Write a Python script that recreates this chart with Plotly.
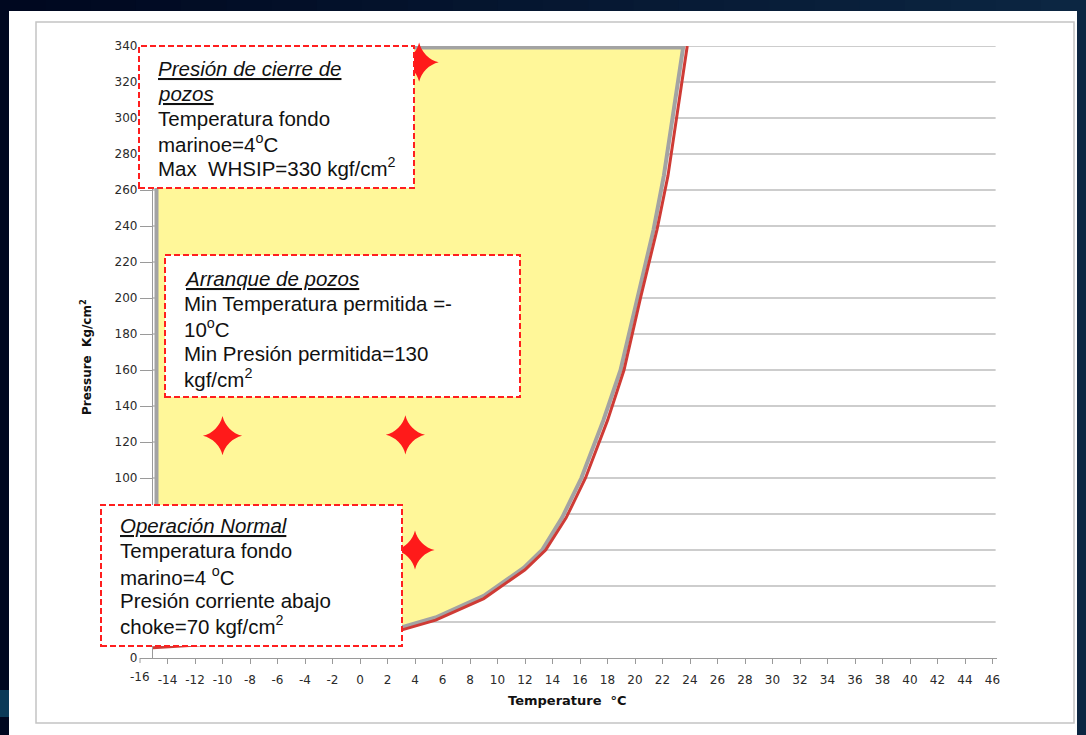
import plotly.graph_objects as go

# ---------------- data ----------------
# hydrate formation curve (red)
hyd_T = [-16, -12, -8, -4, 0, 3, 5.5, 9, 12, 13.5, 15, 16.4, 18, 19.2, 20.4, 21.6, 22.4, 23.1, 23.8]
hyd_P = [5.3, 7, 9, 11, 13.5, 15.5, 21, 33, 49, 60, 78, 100, 132, 160, 200, 238, 268, 303, 340]

# operating envelope boundary (grey, yellow filled)
env_T = [-14.8, -14.8, 23.5, 22.8, 22.1, 21.35, 20.15, 18.95, 17.7, 16.1, 14.7, 13.25, 11.9, 9, 5.5, 3, 0, -5, -10, -14.8]
env_P = [7.5, 339.2, 339.2, 303, 268, 238, 200, 160, 132, 100, 78, 60, 50, 34.5, 22.5, 17, 14.5, 11.5, 9, 7.5]

# operating points (red stars)
star_T = [4.3, -10, 3.3, 4.0]
star_P = [331, 123.5, 124, 60]

x_ticks = list(range(-14, 47, 2))
x_first_label = "-16"
# labels 20-80 sit behind the "Operación Normal" box in the original
y_ticks = [0] + list(range(100, 341, 20))
y_grid = list(range(20, 341, 20))

box1_lines = ["<i><u>Presión de cierre de</u></i>", "<i><u>pozos</u></i>", "Temperatura fondo",
              "marinoe=4<sup>o</sup>C", "Max  WHSIP=330 kgf/cm<sup>2</sup>"]
box2_lines = ["<i><u>Arranque de pozos</u></i>", "Min Temperatura permitida =-", "10<sup>o</sup>C",
              "Min Presión permitida=130", "kgf/cm<sup>2</sup>"]
box3_lines = ["<i><u>Operación Normal</u></i>", "Temperatura fondo", "marino=4 <sup>o</sup>C",
              "Presión corriente abajo", "choke=70 kgf/cm<sup>2</sup>"]

# ---------------- layout geometry (pixels) ----------------
W, H = 1086, 735
PL, PR, PT, PB = 153, 997, 46, 658
PX_PER_DEG = 13.75
PX_ZERO = 360.0
x_min = (PL - PX_ZERO) / PX_PER_DEG
x_max = (PR - PX_ZERO) / PX_PER_DEG


def fx(px):
    return (px - PL) / (PR - PL)


def fy(py):
    return (PB - py) / (PB - PT)


fig = go.Figure()

fig.add_trace(go.Scatter(
    x=env_T, y=env_P, mode="lines", fill="toself", fillcolor="#fff799",
    line=dict(color="#a3a3a3", width=4), hoverinfo="skip", showlegend=False))

fig.add_trace(go.Scatter(
    x=hyd_T, y=hyd_P, mode="lines",
    line=dict(color="#cf3b35", width=3), hoverinfo="skip", showlegend=False))

fig.add_trace(go.Scatter(
    x=star_T, y=star_P, mode="markers",
    marker=dict(symbol="star-diamond", size=28, color="#ff1a1a", line=dict(width=0)),
    hoverinfo="skip", showlegend=False, cliponaxis=False))

shapes = []
# navy background gradient strips
n = 24
c0 = (0, 8, 32)
c1 = (12, 38, 66)
for i in range(n):
    t = i / (n - 1)
    col = "rgb(%d,%d,%d)" % tuple(int(c0[k] + (c1[k] - c0[k]) * t) for k in range(3))
    shapes.append(dict(type="rect", xref="paper", yref="paper",
                       x0=fx(i * W / n), x1=fx((i + 1) * W / n + 1), y0=fy(H + 5), y1=fy(-5),
                       fillcolor=col, line=dict(width=0), layer="below"))
# teal bit at lower left
shapes.append(dict(type="rect", xref="paper", yref="paper", x0=fx(-2), x1=fx(9), y0=fy(717), y1=fy(690),
                   fillcolor="#0b3a58", line=dict(width=0), layer="below"))
# white panel
shapes.append(dict(type="rect", xref="paper", yref="paper", x0=fx(9), x1=fx(1077), y0=fy(H + 5), y1=fy(11),
                   fillcolor="white", line=dict(width=0), layer="below"))
# grey frame
shapes.append(dict(type="rect", xref="paper", yref="paper", x0=fx(36), x1=fx(1074), y0=fy(723), y1=fy(22),
                   fillcolor="rgba(0,0,0,0)", line=dict(color="#c4c4c4", width=1.5), layer="below"))
# gridlines
for v in y_grid:
    shapes.append(dict(type="line", xref="x", yref="y", x0=x_min, x1=x_max - 0.1, y0=v, y1=v,
                       line=dict(color="#bdbdbd", width=1.5), layer="below"))
# extra tick for the -16 label (outside the plotted range)
shapes.append(dict(type="line", xref="paper", yref="paper", x0=fx(140), x1=fx(140), y0=fy(658), y1=fy(663),
                   line=dict(color="#9a9a9a", width=1), layer="below"))

# annotation boxes
boxes = [(139, 46, 414, 188), (165, 255, 520, 397), (101, 505, 402, 646)]
for (x0, y0, x1, y1) in boxes:
    shapes.append(dict(type="rect", xref="paper", yref="paper", x0=fx(x0), x1=fx(x1), y0=fy(y1), y1=fy(y0),
                       fillcolor="white", line=dict(color="#ff1f1f", width=2, dash="6px,3px"), layer="above"))

annotations = []
text_font = dict(family="Liberation Sans, Arial, sans-serif", size=20.5, color="#111111")
for lines, xleft, ys in [
    (box1_lines, 156, [68.5, 93.3, 118, 142.6, 166.7]),
    (box2_lines, 182, [278.3, 303.3, 328.3, 353.3, 377.7]),
    (box3_lines, 117.5, [525.8, 550.8, 575.5, 600.5, 624.5]),
]:
    for txt, yy in zip(lines, ys):
        annotations.append(dict(text=txt, xref="paper", yref="paper", x=fx(xleft), y=fy(yy),
                                xanchor="left", yanchor="middle", showarrow=False, font=text_font))

tick_font = dict(family="DejaVu Sans", size=12, color="#2a2a2a")
annotations.append(dict(text=x_first_label, xref="paper", yref="paper", x=fx(140), y=fy(677.5),
                        xanchor="center", yanchor="middle", showarrow=False, font=tick_font))
annotations.append(dict(text="<b>Temperature  °C</b>", xref="paper", yref="paper", x=fx(567), y=fy(700),
                        xanchor="center", yanchor="middle", showarrow=False,
                        font=dict(family="DejaVu Sans", size=13, color="#111111")))
annotations.append(dict(text="<b>Pressure  Kg/cm<sup>2</sup></b>", xref="paper", yref="paper", x=fx(86), y=fy(357),
                        xanchor="center", yanchor="middle", textangle=-90, showarrow=False,
                        font=dict(family="DejaVu Sans", size=12, color="#111111")))

fig.update_layout(
    width=W, height=H,
    margin=dict(l=PL, r=W - PR, t=PT, b=H - PB, pad=0),
    paper_bgcolor="#000820", plot_bgcolor="white",
    showlegend=False,
    shapes=shapes, annotations=annotations,
    xaxis=dict(range=[x_min, x_max], tickmode="array", tickvals=x_ticks, ticktext=[str(t) for t in x_ticks],
               showgrid=False, zeroline=False, showline=True, linecolor="#9a9a9a", linewidth=1.2,
               ticks="outside", ticklen=5, tickcolor="#9a9a9a", tickwidth=1, tickfont=tick_font,
               ticklabelstandoff=5, fixedrange=True),
    yaxis=dict(range=[0, 340], tickmode="array", tickvals=y_ticks, ticktext=[str(v) for v in y_ticks],
               showgrid=False, zeroline=False, showline=True, linecolor="#9a9a9a", linewidth=1.2,
               ticks="outside", ticklen=12, tickcolor="#9a9a9a", tickwidth=1,
               tickfont=tick_font, fixedrange=True),
)

fig.write_html(
    "out.html",
    config={"displayModeBar": False},
    post_script="document.body.style.margin='0';document.body.style.padding='0';"
                "document.body.style.background='#000820';document.body.style.overflow='hidden';",
)
